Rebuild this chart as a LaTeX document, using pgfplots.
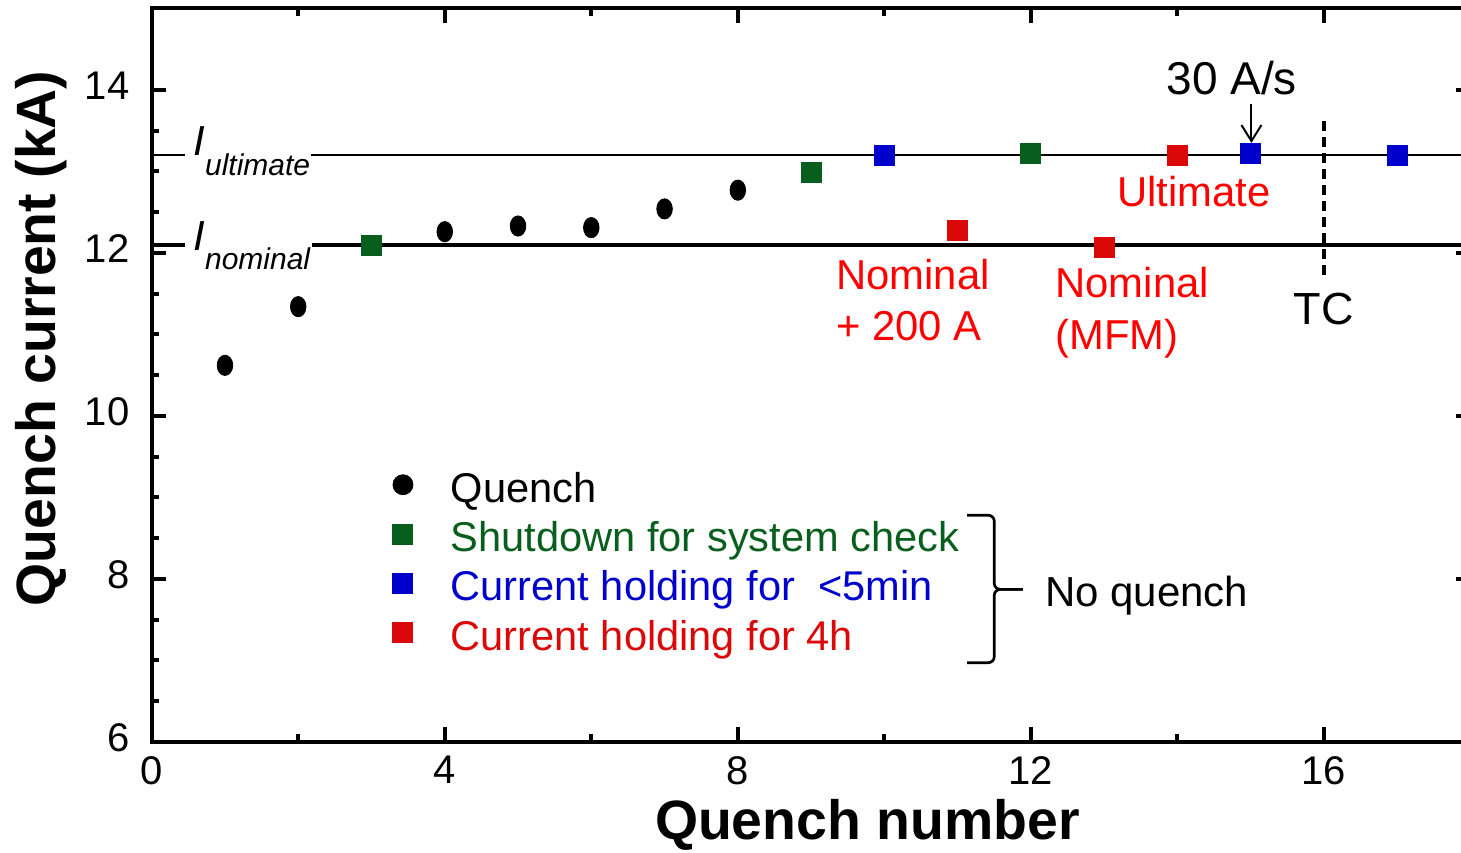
\documentclass[border=0pt]{standalone}
\usepackage{pgfplots}
\pgfplotsset{compat=1.18}
\usepackage{fontspec}
\setmainfont{Liberation Sans}
\usetikzlibrary{arrows.meta}

\definecolor{sdgreen}{RGB}{8,94,28}
\definecolor{hblue}{RGB}{0,0,205}
\definecolor{hred}{RGB}{218,8,8}
\definecolor{anred}{RGB}{255,0,0}

\newcommand{\fs}[1]{\fontsize{#1}{#1}\selectfont}

% single-mark legend images
\pgfplotsset{
  dotlegend/.style={legend image code/.code={%
    \draw[##1, mark size=5pt, mark options={fill=black, draw=black}] plot coordinates {(0pt,0pt)};}},
  sqlegend/.style={legend image code/.code={%
    \draw[##1] plot coordinates {(0pt,0pt)};}},
}

\begin{document}
\begin{tikzpicture}
\begin{axis}[
  scale only axis,
  width=659.4pt, height=366.6pt,
  xmin=0, xmax=18, ymin=6, ymax=15,
  xtick={0,4,8,12,16}, minor x tick num=1,
  ytick={6,8,10,12,14}, minor y tick num=3,
  tick align=inside,
  major tick length=7.2pt, minor tick length=3.8pt,
  axis line style={line width=2pt},
  tick style={black, line width=2pt},
  tick label style={font=\fs{20}, inner sep=0pt},
  /pgf/number format/assume math mode=true,
  xticklabel style={yshift=-7pt},
  yticklabel style={xshift=-11pt, yshift=2pt},
  xlabel={Quench number},
  ylabel={Quench current (kA)},
  label style={font=\fs{27.7}\bfseries},
  xlabel style={at={(axis description cs:0.5427,-0.134)}, anchor=base},
  ylabel style={at={(axis description cs:-0.0733,0.55)}, anchor=base},
  clip=false,
  legend cell align=left,
  legend style={draw=none, fill=none, inner sep=0pt, outer sep=0pt,
    at={(axis cs:3.293,9.368)}, anchor=north west,
    font=\fs{20.8}, row sep=7.25pt, column sep=18.85pt,
    nodes={inner sep=0pt, text height=17.4pt, text depth=0pt}},
]

% reference current levels, broken where their labels sit
\addplot[forget plot, line width=1pt] coordinates {(0,13.2) (0.46,13.2)};
\addplot[forget plot, line width=1pt] coordinates {(2.18,13.2) (18,13.2)};
\addplot[forget plot, line width=2pt] coordinates {(0,12.1) (0.46,12.1)};
\addplot[forget plot, line width=2pt] coordinates {(2.19,12.1) (18,12.1)};

% thermal cycle marker
\addplot[forget plot, line width=1.8pt, dash pattern=on 5pt off 3pt]
  coordinates {(16,11.73) (16,13.69)};

% training quenches
\addplot[only marks, mark=*, mark size=3.9pt, black,
  mark options={yscale=1.3}, dotlegend]
  coordinates {(1,10.62) (2,11.34) (4,12.26) (5,12.33) (6,12.31) (7,12.54) (8,12.77)};
\addlegendentry{Quench}

% ramps without quench
\addplot[only marks, mark=square*, mark size=5pt, sdgreen,
  mark options={line width=0pt}, sqlegend]
  coordinates {(3,12.09) (9,12.99) (12,13.22)};
\addlegendentry{\textcolor{sdgreen}{Shutdown for system check}}

\addplot[only marks, mark=square*, mark size=5pt, hblue,
  mark options={line width=0pt}, sqlegend]
  coordinates {(10,13.19) (15,13.22) (17,13.19)};
\addlegendentry{\textcolor{hblue}{Current holding for\ \ <5min}}

\addplot[only marks, mark=square*, mark size=5pt, hred,
  mark options={line width=0pt}, sqlegend]
  coordinates {(11,12.28) (13,12.07) (14,13.19)};
\addlegendentry{\textcolor{hred}{Current holding for 4h}}

% level labels
\node[anchor=base west, inner sep=0pt, font=\fs{21}\itshape] at (axis cs:0.564,13.20)
  {I\raisebox{-10pt}{\fs{15}\itshape ultimate}};
\node[anchor=base west, inner sep=0pt, font=\fs{21}\itshape] at (axis cs:0.564,12.03)
  {I\raisebox{-9.5pt}{\fs{15}\itshape nominal}};

% annotations
\node[anchor=base, inner sep=0pt, font=\fs{23}] at (axis cs:14.74,13.95) {30 A/s};
\draw[line width=1pt, -{Straight Barb[length=8pt,width=10pt]}]
  (axis cs:15.01,13.83) -- (axis cs:15.01,13.35);
\node[anchor=base west, inner sep=0pt, font=\fs{20.9}, text=anred] at (axis cs:13.17,12.57) {Ultimate};
\node[anchor=base west, inner sep=0pt, font=\fs{20.9}, text=anred] at (axis cs:9.34,11.545) {Nominal};
\node[anchor=base west, inner sep=0pt, font=\fs{20.9}, text=anred] at (axis cs:9.34,10.92) {+ 200 A};
\node[anchor=base west, inner sep=0pt, font=\fs{20.9}, text=anred] at (axis cs:12.33,11.45) {Nominal};
\node[anchor=base west, inner sep=0pt, font=\fs{20.9}, text=anred] at (axis cs:12.33,10.82) {(MFM)};
\node[anchor=base, inner sep=0pt, font=\fs{22.5}] at (axis cs:16,11.115) {TC};

% brace grouping the no-quench entries
\draw[line width=1.35pt, rounded corners=3pt]
  (axis cs:11.13,8.78) -- (axis cs:11.50,8.78) -- (axis cs:11.50,7.87) -- (axis cs:11.89,7.87);
\draw[line width=1.35pt, rounded corners=3pt]
  (axis cs:11.13,6.97) -- (axis cs:11.50,6.97) -- (axis cs:11.50,7.87) -- (axis cs:11.89,7.87);
\node[anchor=base west, inner sep=0pt, font=\fs{21}] at (axis cs:12.19,7.657) {No quench};
\end{axis}
\pgfresetboundingbox
\useasboundingbox (-75.85pt,-55.15pt) rectangle (654.65pt,370.85pt);
\end{tikzpicture}
\end{document}
